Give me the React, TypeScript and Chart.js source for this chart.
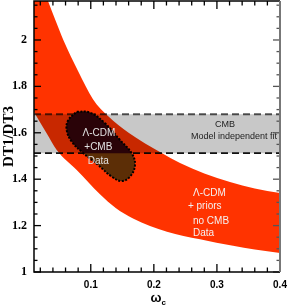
import React, { useEffect, useRef } from 'react';
import { Chart, registerables } from 'chart.js';

// ---- axes ----
const X_MIN = 0.01;
const X_MAX = 0.4;
const Y_MIN = 1;
const Y_MAX = 2.168;

const X_TICK_LABELS = [0.1, 0.2, 0.3, 0.4];
const X_MINOR = [0.02, 0.04, 0.06, 0.08, 0.12, 0.14, 0.16, 0.18, 0.22, 0.24, 0.26, 0.28, 0.32, 0.34, 0.36, 0.38];
const Y_TICK_LABELS = [1, 1.2, 1.4, 1.6, 1.8, 2];
const Y_MINOR = [1.05, 1.1, 1.15, 1.25, 1.3, 1.35, 1.45, 1.5, 1.55, 1.65, 1.7, 1.75, 1.85, 1.9, 1.95, 2.05, 2.1, 2.15];

// ---- Λ-CDM + priors, no CMB band ----
const PRIOR_UPPER_X = [0.01, 0.02, 0.0322, 0.044, 0.0565, 0.08, 0.1035, 0.1273, 0.16, 0.2124, 0.2415, 0.28, 0.3207, 0.36, 0.4];
const PRIOR_UPPER_Y = [2.36, 2.26, 2.168, 2.085, 2.0, 1.865, 1.745, 1.672, 1.6, 1.513, 1.47, 1.425, 1.388, 1.36, 1.34];
const PRIOR_LOWER_X = [0.01, 0.03, 0.046, 0.0777, 0.1146, 0.14, 0.167, 0.2208, 0.2732, 0.3255, 0.36, 0.4];
const PRIOR_LOWER_Y = [1.69, 1.598, 1.526, 1.44, 1.335, 1.275, 1.231, 1.174, 1.141, 1.113, 1.097, 1.082];

// ---- CMB model independent fit ----
const CMB_FIT_X = [0.01, 0.4];
const CMB_FIT_TOP = [1.68, 1.68];
const CMB_FIT_BOTTOM = [1.512, 1.512];

// ---- Λ-CDM + CMB contour ----
const LCDM_CMB_X = [0.0777, 0.0988, 0.1226, 0.1463, 0.1649, 0.1701, 0.1622, 0.149, 0.1332, 0.1119, 0.0882, 0.0698, 0.0618, 0.0644, 0.0777];
const LCDM_CMB_Y = [1.691, 1.687, 1.641, 1.569, 1.512, 1.461, 1.411, 1.392, 1.411, 1.461, 1.512, 1.562, 1.612, 1.655, 1.691];

const ORANGE = '#ff3300';
const GRAY = '#c8c8c8';
const BROWN = '#5c2e06';
const MAROON = '#2a0308';

const NOTES = [
  { text: 'Λ-CDM', x: 0.113, y: 1.599, align: 'center', color: '#e2e2e2', size: 10 },
  { text: '+CMB', x: 0.112, y: 1.539, align: 'center', color: '#e2e2e2', size: 10 },
  { text: 'Data', x: 0.112, y: 1.478, align: 'center', color: '#e2e2e2', size: 10 },
  { text: 'CMB', x: 0.3128, y: 1.634, align: 'center', color: '#222', size: 9 },
  { text: 'Model independent fit', x: 0.3952, y: 1.582, align: 'right', color: '#222', size: 9 },
  { text: 'Λ-CDM', x: 0.262, y: 1.3405, align: 'left', color: '#f4f0f0', size: 10 },
  { text: '+ priors', x: 0.254, y: 1.2845, align: 'left', color: '#f4f0f0', size: 10 },
  { text: 'no CMB', x: 0.262, y: 1.22, align: 'left', color: '#f4f0f0', size: 10 },
  { text: 'Data', x: 0.262, y: 1.168, align: 'left', color: '#f4f0f0', size: 10 },
];

const zip = (xs: number[], ys: number[]) => xs.map((x, i) => ({ x, y: ys[i] }));

const layerPlugin = {
  id: 'layerFx',
  beforeDatasetDraw(chart: any, args: any) {
    const ds = chart.data.datasets[args.index];
    if (!ds.fx) return;
    const ctx = chart.ctx;
    ctx.save();
    if (ds.fx === 'multiply') ctx.globalCompositeOperation = 'multiply';
    if (ds.fx === 'clipAbove') {
      const a = chart.chartArea;
      const y = chart.scales.y.getPixelForValue(ds.clipY);
      ctx.beginPath();
      ctx.rect(a.left, a.top, a.right - a.left, y - a.top);
      ctx.clip();
    }
  },
  afterDatasetDraw(chart: any, args: any) {
    const ds = chart.data.datasets[args.index];
    if (!ds.fx) return;
    chart.ctx.restore();
  },
};

Chart.register(layerPlugin, ...registerables);

const decorPlugin = {
  id: 'decor',
  afterDatasetsDraw(chart: any) {
    const ctx = chart.ctx;
    const xs = chart.scales.x;
    const ys = chart.scales.y;
    const a = chart.chartArea;
    ctx.save();
    ctx.textBaseline = 'middle';
    for (const n of NOTES) {
      ctx.font = `${n.size}px "Liberation Sans", Arial, sans-serif`;
      ctx.fillStyle = n.color;
      ctx.textAlign = n.align;
      ctx.fillText(n.text, xs.getPixelForValue(n.x), ys.getPixelForValue(n.y));
    }
    const drawTick = (x1: number, y1: number, x2: number, y2: number, color: string) => {
      ctx.strokeStyle = color;
      ctx.lineWidth = 1.3;
      ctx.beginPath();
      ctx.moveTo(x1, y1);
      ctx.lineTo(x2, y2);
      ctx.stroke();
    };
    const xt = (vals: number[], len: number) => {
      for (const v of vals) {
        const px = xs.getPixelForValue(v);
        drawTick(px, a.bottom, px, a.bottom - len, '#000');
        drawTick(px, a.top, px, a.top + len, '#000');
      }
    };
    const yt = (vals: number[], len: number) => {
      for (const v of vals) {
        const py = ys.getPixelForValue(v);
        drawTick(a.left, py, a.left + len, py, '#000');
        drawTick(a.right, py, a.right - len, py, '#555');
      }
    };
    xt(X_MINOR, 4.5);
    xt(X_TICK_LABELS, 8);
    yt(Y_MINOR, 3.5);
    yt(Y_TICK_LABELS, 7);
    ctx.lineWidth = 1.5;
    ctx.strokeStyle = '#000';
    ctx.beginPath();
    ctx.moveTo(a.right, a.top);
    ctx.lineTo(a.left, a.top);
    ctx.lineTo(a.left, a.bottom);
    ctx.lineTo(a.right, a.bottom);
    ctx.stroke();
    ctx.strokeStyle = '#777';
    ctx.lineWidth = 2;
    ctx.beginPath();
    ctx.moveTo(a.right, a.top);
    ctx.lineTo(a.right, a.bottom);
    ctx.stroke();
    const cx = (a.left + a.right) / 2;
    ctx.fillStyle = '#000';
    ctx.textBaseline = 'alphabetic';
    ctx.textAlign = 'center';
    ctx.font = 'bold 13px "Liberation Sans", Arial, sans-serif';
    ctx.fillText('ω', cx - 1, 302);
    ctx.textAlign = 'left';
    ctx.font = 'bold 8px "Liberation Sans", Arial, sans-serif';
    ctx.fillText('c', cx + 4.5, 305);
    ctx.restore();
  },
};

const zeroPad = (s: any) => {
  s.paddingTop = 0;
  s.paddingBottom = 0;
  s.paddingLeft = 0;
  s.paddingRight = 0;
};

export default function App() {
  const ref = useRef<HTMLCanvasElement>(null);
  useEffect(() => {
    if (!ref.current) return;
    const chart = new Chart(ref.current, {
      type: 'line',
      data: {
        datasets: [
          {
            data: zip(PRIOR_UPPER_X, PRIOR_UPPER_Y),
            borderWidth: 0,
            pointRadius: 0,
            cubicInterpolationMode: 'monotone',
            fill: '+1',
            backgroundColor: ORANGE,
            order: 10,
          },
          {
            data: zip(PRIOR_LOWER_X, PRIOR_LOWER_Y),
            borderWidth: 0,
            pointRadius: 0,
            cubicInterpolationMode: 'monotone',
            fill: false,
            order: 10,
          },
          {
            data: zip(CMB_FIT_X, CMB_FIT_TOP),
            borderColor: '#555',
            borderWidth: 1.8,
            borderDash: [7, 4],
            pointRadius: 0,
            fill: '+1',
            backgroundColor: GRAY,
            order: 8,
            fx: 'multiply',
          },
          {
            data: zip(CMB_FIT_X, CMB_FIT_BOTTOM),
            borderColor: '#111',
            borderWidth: 1.8,
            borderDash: [7, 4],
            pointRadius: 0,
            fill: false,
            order: 8,
            fx: 'multiply',
          },
          {
            data: zip(LCDM_CMB_X, LCDM_CMB_Y),
            borderWidth: 0,
            pointRadius: 0,
            tension: 0.4,
            fill: 'shape',
            backgroundColor: BROWN,
            order: 6,
          },
          {
            data: zip(LCDM_CMB_X, LCDM_CMB_Y),
            borderWidth: 0,
            pointRadius: 0,
            tension: 0.4,
            fill: 'shape',
            backgroundColor: MAROON,
            order: 4,
            fx: 'clipAbove',
            clipY: 1.512,
          },
          {
            data: zip(LCDM_CMB_X, LCDM_CMB_Y),
            borderColor: '#000',
            borderWidth: 2,
            borderDash: [2, 1.5],
            pointRadius: 0,
            tension: 0.4,
            fill: false,
            order: 2,
          },
        ] as any,
      },
      options: {
        animation: false,
        responsive: false,
        events: [],
        layout: { padding: { top: 1, right: 9, left: 0, bottom: 0 } },
        plugins: { legend: { display: false }, tooltip: { enabled: false } },
        scales: {
          x: {
            type: 'linear',
            min: X_MIN,
            max: X_MAX,
            grid: { display: false, drawTicks: false },
            border: { display: false },
            afterBuildTicks: (s: any) => { s.ticks = X_TICK_LABELS.map((v) => ({ value: v })); },
            afterFit: (s: any) => { s.height = 35; zeroPad(s); },
            ticks: {
              autoSkip: false,
              maxRotation: 0,
              padding: 7,
              color: '#000',
              font: { family: '"Liberation Sans", Arial, sans-serif', size: 10, weight: 'bold' },
              callback: (v: any) => String(v),
            },
          },
          y: {
            type: 'linear',
            min: Y_MIN,
            max: Y_MAX,
            grid: { display: false, drawTicks: false },
            border: { display: false },
            afterBuildTicks: (s: any) => { s.ticks = Y_TICK_LABELS.map((v) => ({ value: v })); },
            afterFit: (s: any) => { s.width = 34; zeroPad(s); },
            title: {
              display: true,
              text: 'DT1/DT3',
              color: '#000',
              padding: 0,
              font: { family: '"Liberation Serif", "Times New Roman", serif', size: 15, weight: 'bold' },
            },
            ticks: {
              autoSkip: false,
              padding: 7,
              color: '#000',
              font: { family: '"Liberation Serif", "Times New Roman", serif', size: 12, weight: 'bold' },
              callback: (v: any) => String(v),
            },
          },
        },
      },
      plugins: [decorPlugin],
    } as any);
    return () => chart.destroy();
  }, []);
  return (
    <div style={{ position: 'fixed', left: 0, top: 0, width: 289, height: 307, background: '#fff' }}>
      <canvas ref={ref} width={289} height={307} style={{ display: 'block' }} />
    </div>
  );
}
